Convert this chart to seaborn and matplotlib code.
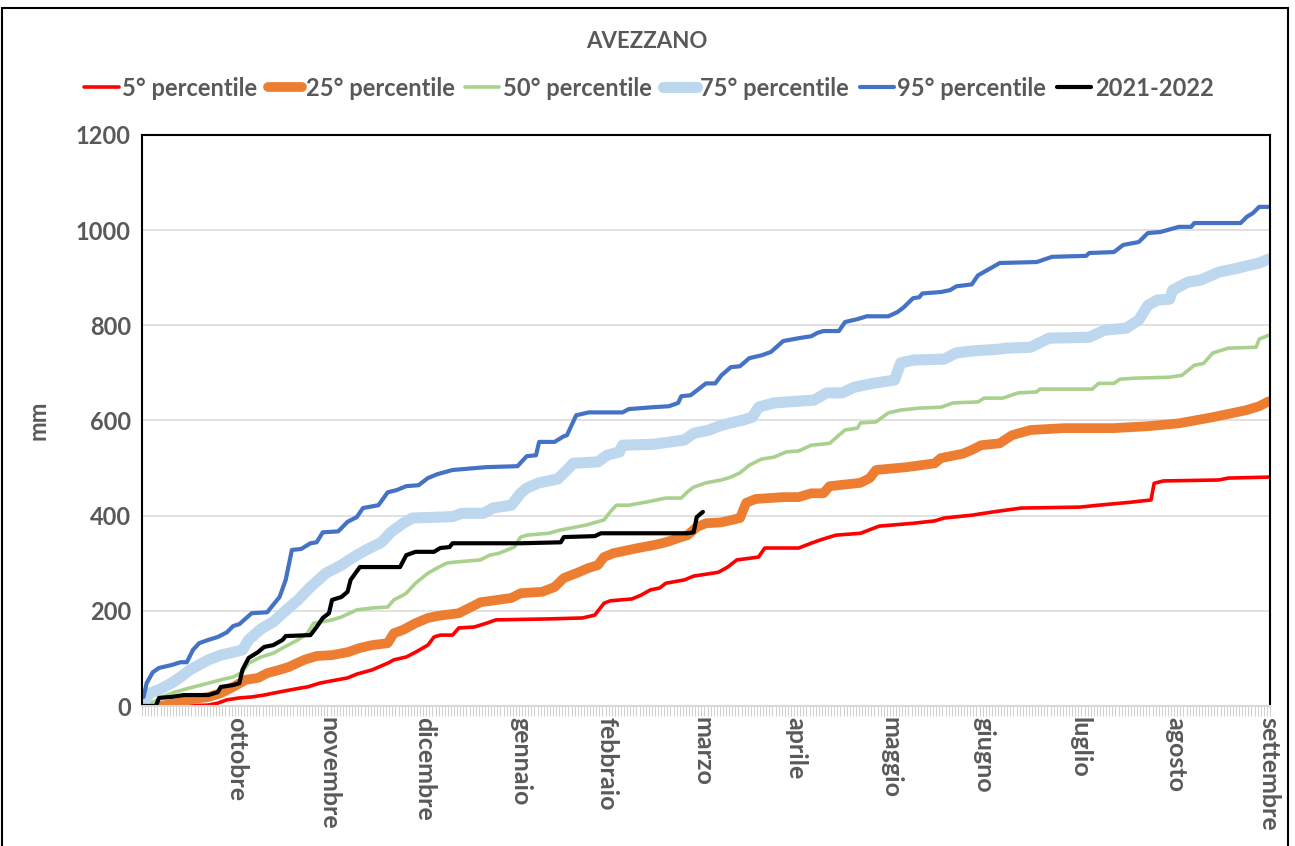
import numpy as np
import pandas as pd
import matplotlib
matplotlib.use('Agg')
import matplotlib.pyplot as plt
import seaborn as sns
from matplotlib.patches import Rectangle

# Precipitazioni cumulate (mm) - AVEZZANO, giorni dal 1 ottobre
mesi = ['ottobre', 'novembre', 'dicembre', 'gennaio', 'febbraio', 'marzo',
        'aprile', 'maggio', 'giugno', 'luglio', 'agosto', 'settembre']
giorni_mesi = [30, 60, 91, 122, 150, 181, 211, 242, 272, 303, 334, 364]

p5_giorni = [0, 13, 21, 24, 27, 31, 35, 39, 42, 46, 51, 53, 57, 61, 66, 69, 74, 79, 81, 85, 88, 92, 94, 96, 100,
             102, 107, 111, 114, 131, 142, 146, 149, 151, 158, 161, 164, 167, 169, 175, 178, 182, 186, 189, 192,
             199, 201, 212, 216, 219, 222, 224, 232, 238, 249, 256, 259, 268, 275, 284, 303, 309, 319, 326, 327,
             330, 348, 351, 364]
p5_mm = [0, 0, 2, 6, 13, 17, 19, 23, 27, 32, 38, 40, 48, 53, 59, 67, 76, 90, 97, 103, 113, 128, 145, 149, 149,
         164, 166, 174, 181, 183, 185, 191, 216, 221, 225, 233, 244, 248, 258, 265, 273, 277, 281, 292, 307,
         313, 332, 332, 342, 349, 355, 359, 363, 378, 384, 389, 395, 401, 408, 416, 418, 422, 428, 433, 468,
         473, 475, 479, 481]

p25_giorni = [0, 5, 11, 15, 21, 25, 29, 33, 37, 40, 44, 47, 52, 56, 61, 66, 70, 74, 79, 81, 84, 88, 92, 95, 97,
              102, 106, 109, 119, 122, 129, 133, 136, 140, 144, 147, 149, 152, 160, 165, 169, 174, 176, 179, 182,
              187, 193, 195, 198, 207, 212, 216, 220, 222, 232, 235, 237, 247, 256, 258, 265, 268, 271, 277, 281,
              287, 298, 314, 325, 335, 346, 357, 361, 364]
p25_mm = [0, 0, 6, 13, 19, 27, 40, 55, 59, 69, 76, 82, 97, 105, 107, 113, 122, 128, 132, 153, 160, 174, 185, 189, 191,
          195, 208, 218, 227, 237, 240, 250, 269, 279, 290, 296, 313, 321, 332, 338, 344, 355, 359, 376, 384,
          386, 395, 427, 435, 439, 439, 447, 447, 462, 469, 479, 496, 502, 510, 521, 530, 538, 548, 552, 569,
          580, 584, 584, 588, 594, 607, 622, 630, 640]

p50_giorni = [0, 1, 6, 10, 15, 21, 25, 29, 32, 34, 38, 42, 45, 50, 53, 55, 57, 61, 64, 69, 74, 79, 81, 84, 85, 88,
              92, 95, 98, 100, 109, 112, 115, 120, 122, 124, 131, 135, 143, 149, 151, 153, 157, 163, 169, 174, 176,
              178, 182, 187, 190, 193, 196, 200, 204, 208, 212, 216, 222, 225, 227, 231, 232, 237, 241, 245, 251,
              258, 262, 270, 272, 278, 283, 289, 290, 307, 309, 314, 316, 321, 332, 336, 340, 343, 346, 351, 360,
              361, 364]
p50_mm = [0, 0, 19, 29, 38, 48, 55, 61, 71, 90, 103, 111, 122, 139, 153, 174, 176, 181, 187, 202, 206, 208, 223, 233,
          237, 258, 279, 290, 300, 302, 307, 317, 321, 334, 355, 359, 363, 370, 380, 391, 408, 422, 422, 429, 437,
          437, 450, 460, 469, 475, 481, 490, 506, 519, 523, 534, 536, 548, 552, 569, 580, 584, 595, 597, 616, 622,
          626, 628, 637, 639, 647, 647, 658, 660, 666, 666, 678, 678, 687, 689, 691, 695, 716, 720, 742, 752, 754,
          771, 779]

p75_giorni = [0, 2, 5, 9, 12, 15, 21, 25, 29, 32, 34, 38, 42, 45, 50, 54, 59, 64, 68, 72, 77, 80, 84, 87, 96, 100,
              103, 110, 113, 119, 122, 124, 128, 134, 137, 139, 147, 150, 154, 155, 165, 175, 178, 183, 187, 194,
              197, 199, 204, 217, 221, 226, 230, 236, 243, 245, 249, 259, 263, 268, 277, 279, 287, 293, 306, 311,
              318, 322, 325, 328, 332, 333, 338, 342, 348, 354, 357, 361, 364]
p75_mm = [6, 27, 34, 48, 61, 76, 97, 107, 113, 118, 139, 162, 177, 195, 223, 250, 279, 296, 313, 328, 344, 365, 384,
          395, 397, 398, 405, 405, 416, 422, 447, 458, 469, 477, 496, 510, 513, 527, 534, 548, 550, 559, 573, 580,
          590, 601, 607, 628, 637, 643, 658, 658, 670, 678, 685, 721, 727, 729, 742, 746, 750, 752, 754, 773, 775,
          790, 794, 811, 842, 853, 855, 874, 891, 895, 912, 920, 925, 931, 939]

p95_giorni = [0, 1, 3, 5, 9, 12, 14, 16, 18, 21, 24, 27, 29, 31, 35, 40, 44, 46, 48, 51, 54, 56, 58, 63, 66, 69, 71,
              76, 79, 82, 85, 89, 92, 95, 100, 111, 121, 124, 127, 128, 133, 136, 137, 140, 144, 155, 157, 165, 170,
              173, 174, 177, 180, 182, 185, 187, 190, 193, 196, 200, 203, 207, 212, 216, 218, 220, 225, 227, 231,
              234, 241, 244, 246, 249, 251, 252, 258, 261, 263, 268, 270, 273, 276, 277, 289, 294, 305, 306, 314,
              317, 322, 325, 329, 335, 339, 340, 355, 357, 359, 361, 364]
p95_mm = [19, 48, 71, 80, 86, 92, 92, 118, 132, 139, 145, 155, 168, 172, 195, 197, 229, 265, 328, 330, 342, 344, 365,
          367, 387, 397, 416, 422, 449, 454, 462, 464, 479, 487, 496, 502, 504, 525, 527, 555, 555, 567, 569, 611,
          617, 617, 624, 628, 630, 637, 651, 653, 668, 678, 678, 695, 712, 714, 731, 737, 744, 767, 773, 777, 784,
          788, 788, 807, 813, 819, 819, 828, 838, 857, 859, 867, 870, 874, 882, 886, 905, 916, 927, 931, 933, 944,
          946, 952, 954, 969, 975, 994, 996, 1007, 1007, 1015, 1015, 1028, 1036, 1049, 1049]

a2122_giorni = [0, 4, 5, 9, 13, 21, 24, 25, 29, 31, 32, 34, 37, 39, 42, 45, 46, 54, 56, 58, 60, 61, 64, 66, 67, 70,
                83, 85, 88, 94, 96, 99, 100, 122, 135, 136, 146, 148, 176, 178, 179, 181]
a2122_mm = [0, 0, 17, 19, 23, 23, 29, 40, 44, 48, 76, 101, 113, 124, 128, 139, 147, 149, 166, 185, 195, 223, 229,
            240, 265, 292, 292, 317, 324, 324, 332, 334, 342, 342, 344, 355, 357, 363, 363, 365, 397, 408]

serie = [
    ('5° percentile', p5_giorni, p5_mm, '#FF0000', 2.6),
    ('25° percentile', p25_giorni, p25_mm, '#ED7D31', 7.0),
    ('50° percentile', p50_giorni, p50_mm, '#A9D18E', 2.6),
    ('75° percentile', p75_giorni, p75_mm, '#BDD7EE', 8.0),
    ('95° percentile', p95_giorni, p95_mm, '#4472C4', 3.0),
    ('2021-2022', a2122_giorni, a2122_mm, '#000000', 3.0),
]

sns.set_theme(style='white')
plt.rcParams['font.family'] = ['Lato', 'DejaVu Sans']
grigio = '#595959'

fig = plt.figure(figsize=(12.95, 8.46), dpi=100)
ax = fig.add_axes([142 / 1295, 1 - 706 / 846, 1128 / 1295, 571 / 846])

for nome, giorni, mm, colore, lw in serie:
    df = pd.DataFrame({'giorno': giorni, 'mm': mm})
    sns.lineplot(data=df, x='giorno', y='mm', ax=ax, color=colore, linewidth=lw, label=nome,
                 estimator=None, sort=False, solid_joinstyle='round', solid_capstyle='round')

ax.set_xlim(-0.5, 364.5)
ax.set_ylim(0, 1200)
ax.set_yticks(range(0, 1201, 200))
ax.yaxis.grid(True, color='#D9D9D9', linewidth=1.1)
ax.set_axisbelow(True)

ax.set_xticks(giorni_mesi, mesi, rotation=-90)
ax.set_xticks(np.arange(-0.5, 365, 1), minor=True)
ax.tick_params(axis='x', which='major', length=0, pad=8, labelsize=18, labelcolor=grigio)
ax.tick_params(axis='x', which='minor', length=7, width=0.6, color='#C8C8C8', direction='out', bottom=True)
ax.tick_params(axis='y', length=0, pad=8, labelsize=17, labelcolor=grigio)
for t in ax.get_xticklabels() + ax.get_yticklabels():
    t.set_fontweight('bold')

ax.set_xlabel('')
ax.set_ylabel('mm', fontsize=17, fontweight='bold', color=grigio)
ax.yaxis.set_label_coords(-0.082, 0.5)

for lato in ['left', 'top', 'right']:
    ax.spines[lato].set_color('black')
    ax.spines[lato].set_linewidth(1.5)
ax.spines['bottom'].set_color('#D9D9D9')
ax.spines['bottom'].set_linewidth(1.5)

handles, labels = ax.get_legend_handles_labels()
ax.get_legend().remove()
fig.legend(handles, labels, loc='center', bbox_to_anchor=(649 / 1295, 1 - 88 / 846), ncol=6, frameon=False,
           handlelength=1.45, handletextpad=0.15, columnspacing=0.45, labelcolor=grigio,
           prop={'weight': 'bold', 'size': 17})

fig.text(0.4996, 1 - 41 / 846, 'AVEZZANO', ha='center', va='center', fontsize=16, fontweight='bold', color=grigio)

fig.patches.append(Rectangle((2 / 1295, -0.01), 1286 / 1295, 1.0005, transform=fig.transFigure,
                             fill=False, edgecolor='black', linewidth=1.5))

plt.savefig('out.png', dpi=100)
